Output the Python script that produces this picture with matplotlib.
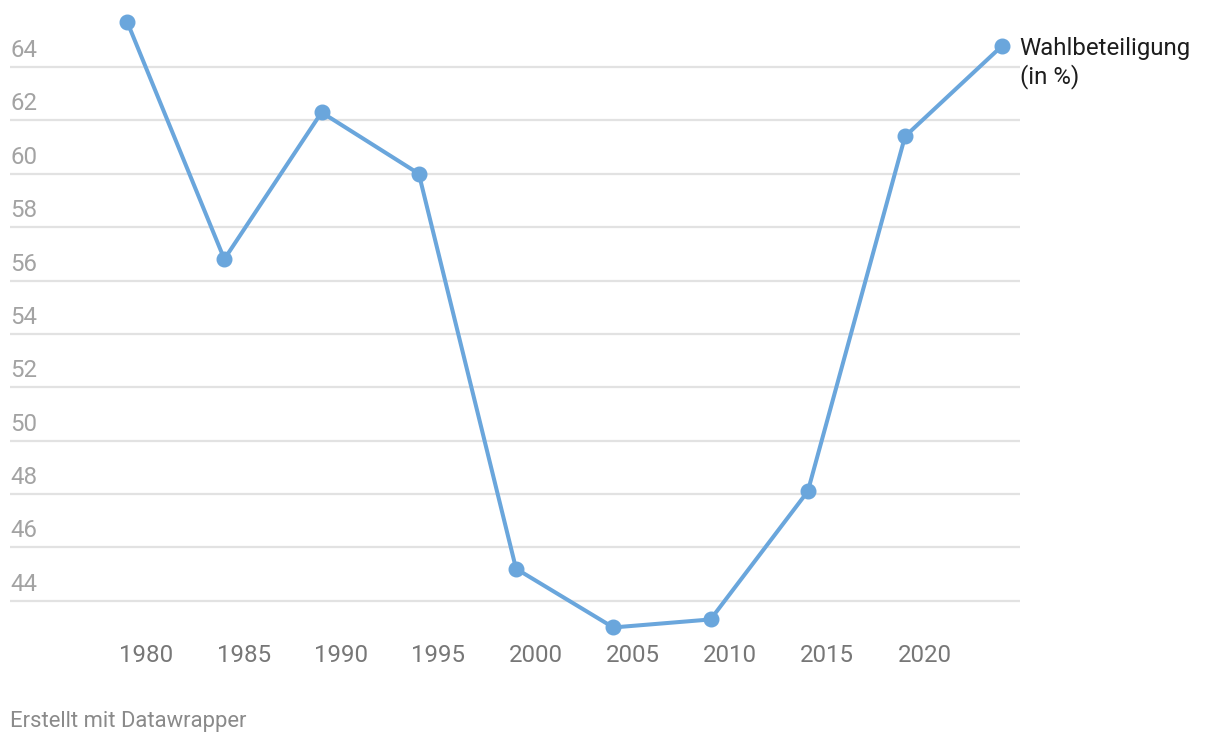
import matplotlib
matplotlib.use("Agg")
import matplotlib.pyplot as plt

plt.rcParams['font.family'] = ['Roboto', 'DejaVu Sans']

years = [1979, 1984, 1989, 1994, 1999, 2004, 2009, 2014, 2019, 2024]
turnout = [65.7, 56.8, 62.3, 60.0, 45.2, 43.0, 43.3, 48.1, 61.4, 64.8]
y_ticks = [44, 46, 48, 50, 52, 54, 56, 58, 60, 62, 64]
x_ticks = [1980, 1985, 1990, 1995, 2000, 2005, 2010, 2015, 2020]
series_label = "Wahlbeteiligung\n(in %)"
footer = "Erstellt mit Datawrapper"

W, H = 1220, 744
fig = plt.figure(figsize=(W / 100, H / 100), dpi=100)
left_px, right_px, top_px, bottom_px = 10, 1020, 0, 640
ax = fig.add_axes([left_px / W, 1 - bottom_px / H, (right_px - left_px) / W, (bottom_px - top_px) / H])

ax.set_xlim(1972.98, 2024.91)
ax.set_ylim(42.53, 66.51)
for s in ax.spines.values():
    s.set_visible(False)
ax.set_xticks([])
ax.set_yticks([])

# gridlines and y labels
for v in y_ticks:
    ax.axhline(v, color='#e2e2e2', lw=1.6, zorder=1)
    ax.annotate(str(v), xy=(0, v), xycoords=('axes fraction', 'data'),
                xytext=(0, 7.2), textcoords='offset points',
                ha='left', va='baseline', fontsize=17.3, color='#a3a3a3')

# x labels
for yr in x_ticks:
    ax.annotate(str(yr), xy=(yr, 0), xycoords=('data', 'axes fraction'),
                xytext=(0, -15.8), textcoords='offset points',
                ha='center', va='baseline', fontsize=17.3, color='#777777')

color = '#6aa6dc'
ax.plot(years, turnout, color=color, lw=2.9, marker='o', markersize=10.5,
        clip_on=False, zorder=3, solid_joinstyle='round')

ax.annotate(series_label, xy=(years[-1], turnout[-1]), xycoords='data',
            xytext=(12.5, 6), textcoords='offset points',
            ha='left', va='top', fontsize=17.3, color='#1d1d1d',
            linespacing=1.2, annotation_clip=False)

fig.text(10 / W, 1 - 727 / H, footer, ha='left', va='baseline', fontsize=15.8, color='#8a8a8a')

fig.savefig('out.png', dpi=100, facecolor='white')
